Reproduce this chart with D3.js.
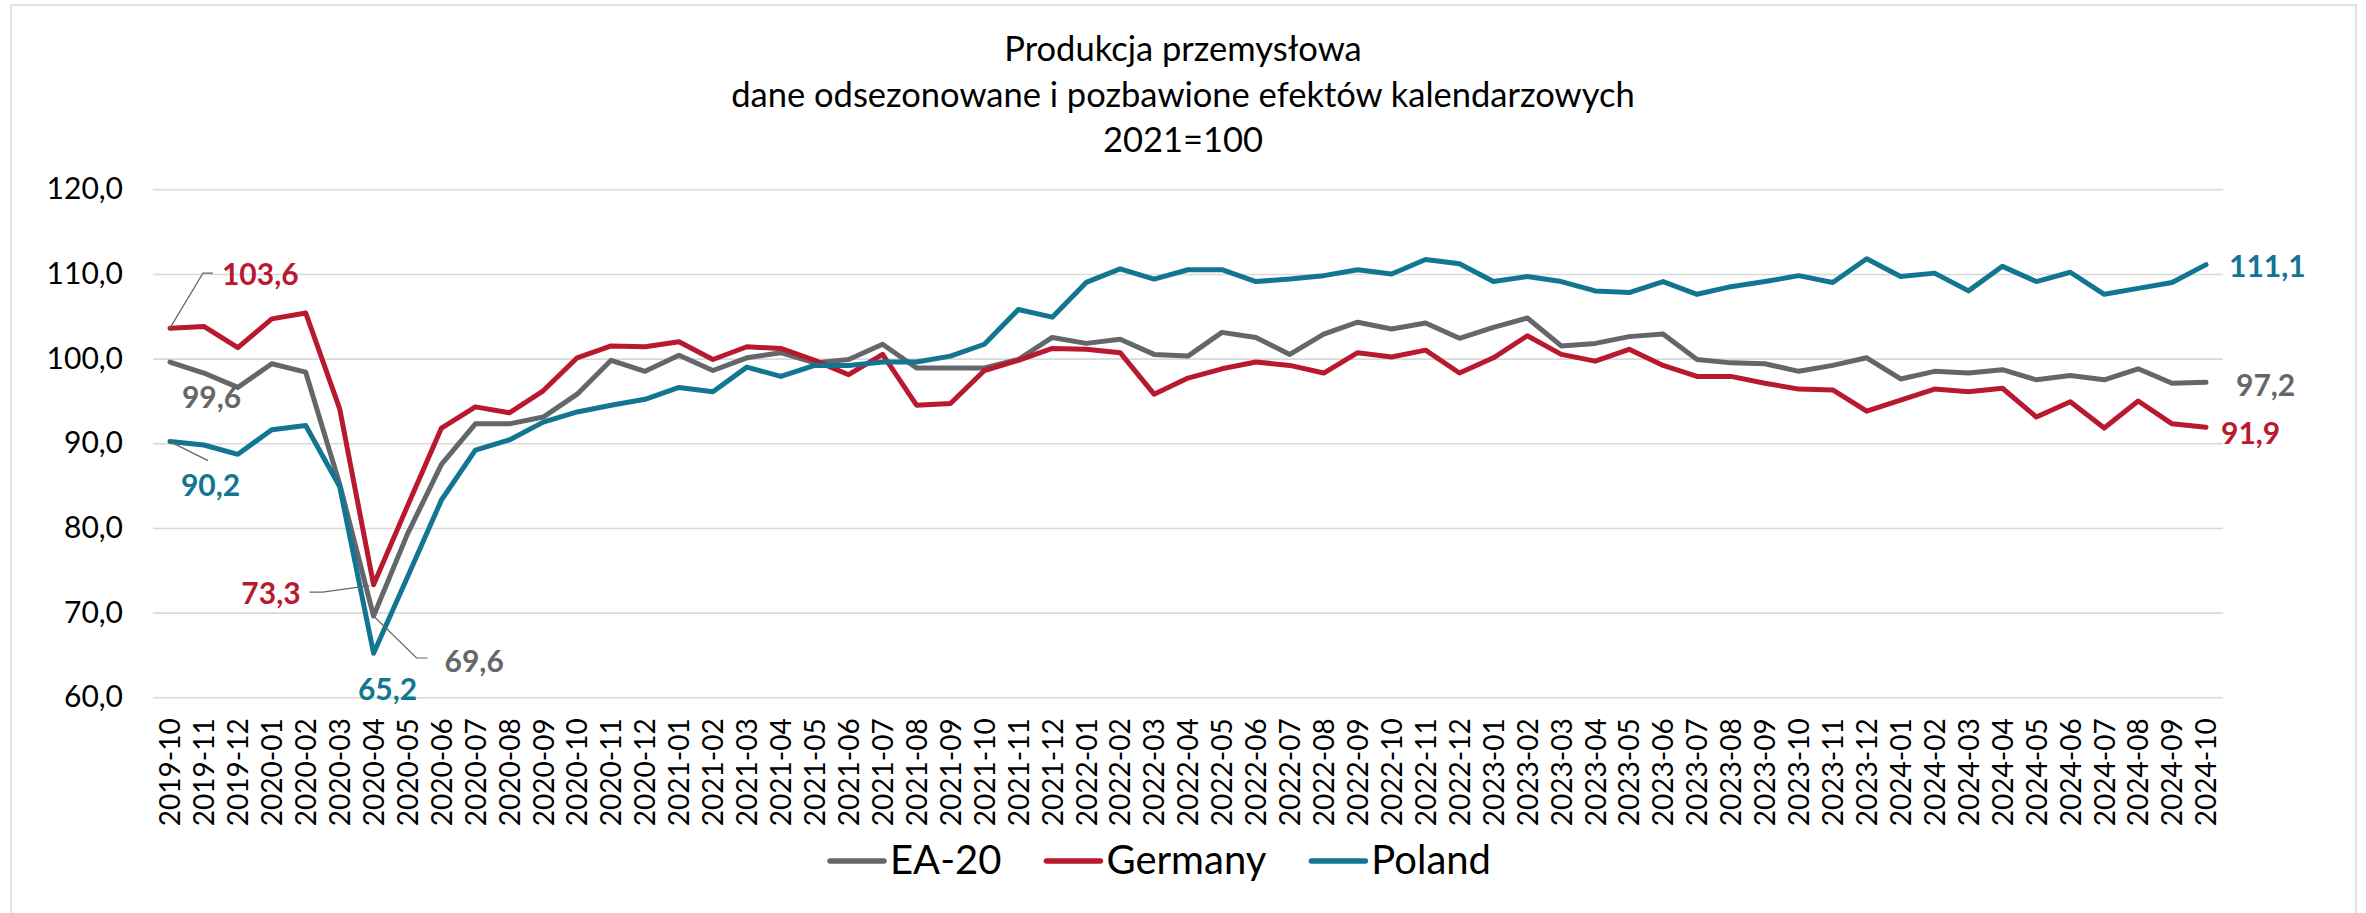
<!DOCTYPE html>
<html>
<head>
<meta charset="utf-8">
<script src="https://cdn.jsdelivr.net/npm/d3@7"></script>
<style>
    body { margin: 0; background: #fff; }
    svg { display: block; font-family: Lato, "Open Sans", sans-serif; }
</style>
</head>
<body>
<div id="root"></div>
<script>
// months on the x axis
const months = [
    "2019-10", "2019-11", "2019-12",
    "2020-01", "2020-02", "2020-03", "2020-04", "2020-05", "2020-06", "2020-07", "2020-08", "2020-09", "2020-10", "2020-11", "2020-12",
    "2021-01", "2021-02", "2021-03", "2021-04", "2021-05", "2021-06", "2021-07", "2021-08", "2021-09", "2021-10", "2021-11", "2021-12",
    "2022-01", "2022-02", "2022-03", "2022-04", "2022-05", "2022-06", "2022-07", "2022-08", "2022-09", "2022-10", "2022-11", "2022-12",
    "2023-01", "2023-02", "2023-03", "2023-04", "2023-05", "2023-06", "2023-07", "2023-08", "2023-09", "2023-10", "2023-11", "2023-12",
    "2024-01", "2024-02", "2024-03", "2024-04", "2024-05", "2024-06", "2024-07", "2024-08", "2024-09", "2024-10"
];

const ea20 = [
    99.6, 98.3, 96.6,
    99.4, 98.4, 85.2, 69.6, 79.3, 87.5, 92.3, 92.3, 93.1, 95.8, 99.8, 98.5,
    100.4, 98.6, 100.1, 100.7, 99.5, 99.9, 101.7, 98.9, 98.9, 98.9, 99.9, 102.5,
    101.8, 102.3, 100.5, 100.3, 103.1, 102.5, 100.5, 102.9, 104.3, 103.5, 104.2, 102.4,
    103.7, 104.8, 101.5, 101.8, 102.6, 102.9, 99.9, 99.5, 99.4, 98.5, 99.2, 100.1,
    97.6, 98.5, 98.3, 98.7, 97.5, 98.0, 97.5, 98.8, 97.1, 97.2
];

const germany = [
    103.6, 103.8, 101.3,
    104.7, 105.4, 94.1, 73.3, 82.6, 91.8, 94.3, 93.6, 96.2, 100.1, 101.5, 101.4,
    102.0, 99.9, 101.4, 101.2, 99.8, 98.1, 100.5, 94.5, 94.7, 98.6, 99.8, 101.2,
    101.1, 100.7, 95.8, 97.7, 98.8, 99.6, 99.2, 98.3, 100.7, 100.2, 101.0, 98.3,
    100.1, 102.7, 100.5, 99.7, 101.1, 99.2, 97.9, 97.9, 97.1, 96.4, 96.3, 93.8,
    95.1, 96.4, 96.1, 96.5, 93.1, 94.9, 91.8, 95.0, 92.3, 91.9
];

const poland = [
    90.2, 89.8, 88.7,
    91.6, 92.1, 84.9, 65.2, 74.2, 83.3, 89.2, 90.4, 92.5, 93.7, 94.5, 95.2,
    96.6, 96.1, 99.0, 97.9, 99.2, 99.2, 99.6, 99.6, 100.3, 101.7, 105.8, 104.9,
    109.0, 110.6, 109.4, 110.5, 110.5, 109.1, 109.4, 109.8, 110.5, 110.0, 111.7, 111.2,
    109.1, 109.7, 109.1, 108.0, 107.8, 109.1, 107.6, 108.5, 109.1, 109.8, 109.0, 111.8,
    109.7, 110.1, 108.0, 110.9, 109.1, 110.2, 107.6, 108.3, 109.0, 111.1
];

const seriesNames = ["EA-20", "Germany", "Poland"];
const yTicks = [60, 70, 80, 90, 100, 110, 120];
const titleLines = [
    "Produkcja przemysłowa",
    "dane odsezonowane i pozbawione efektów kalendarzowych",
    "2021=100"
];

const colors = {
    "EA-20": "#63676a",
    "Germany": "#b8192e",
    "Poland": "#127591"
};

const series = [
    { name: "EA-20", values: ea20 },
    { name: "Germany", values: germany },
    { name: "Poland", values: poland }
];

// value labels: which point, where the text sits relative to it, optional leader line
const annotations = [
    { name: "Germany", i: 0, dx: 52, dy: -54, anchor: "start", leader: [[0, 0], [33, -55], [43, -55]] },
    { name: "EA-20", i: 0, dx: 12, dy: 35, anchor: "start" },
    { name: "Poland", i: 0, dx: 11, dy: 44, anchor: "start", leader: [[0, 0], [38, 19]] },
    { name: "Germany", i: 6, dx: -73, dy: 9, anchor: "end", leader: [[-4, 1], [-51, 7.5], [-64, 7.5]] },
    { name: "EA-20", i: 6, dx: 71, dy: 45, anchor: "start", leader: [[0, 0], [43, 42], [54, 42]] },
    { name: "Poland", i: 6, dx: 14, dy: 36, anchor: "middle" },
    { name: "Poland", i: 60, dx: 23, dy: 2, anchor: "start" },
    { name: "EA-20", i: 60, dx: 30, dy: 3, anchor: "start" },
    { name: "Germany", i: 60, dx: 15, dy: 6, anchor: "start" }
];

const width = 2366;
const height = 913;
const plot = { left: 153, right: 2223, top: 189.3, bottom: 697.3 };

const plLocale = d3.formatLocale({ decimal: ",", thousands: " ", grouping: [3], currency: ["", " zł"] });
const fmt = plLocale.format(".1f");

const svg = d3.select("#root")
    .append("svg")
    .attr("width", width)
    .attr("height", height);

svg.append("rect")
    .attr("width", width)
    .attr("height", height)
    .attr("fill", "#fff");

// chart frame
svg.append("rect")
    .attr("x", 11)
    .attr("y", 5)
    .attr("width", 2345)
    .attr("height", 930)
    .attr("fill", "none")
    .attr("stroke", "#d9d9d9")
    .attr("stroke-width", 1.5);

const xScale = d3.scalePoint()
    .domain(months)
    .range([plot.left, plot.right])
    .padding(0.5);

const yScale = d3.scaleLinear()
    .domain([60, 120])
    .range([plot.bottom, plot.top]);

// y axis + gridlines
const yAxis = d3.axisLeft(yScale)
    .tickValues(yTicks)
    .tickFormat(fmt)
    .tickSizeInner(-(plot.right - plot.left))
    .tickSizeOuter(0)
    .tickPadding(30);

const gy = svg.append("g")
    .attr("id", "y-axis")
    .attr("transform", `translate(${plot.left},0)`)
    .call(yAxis);

gy.select(".domain").remove();
gy.selectAll(".tick line")
    .attr("stroke", "#d9d9d9")
    .attr("stroke-width", 1.6);
gy.selectAll(".tick text")
    .attr("fill", "#000")
    .style("font-size", "30px")
    .style("font-family", "Lato, sans-serif");

// x axis, labels turned upright
const xAxis = d3.axisBottom(xScale)
    .tickSize(0);

const gx = svg.append("g")
    .attr("id", "x-axis")
    .attr("transform", `translate(0,${plot.bottom})`)
    .call(xAxis);

gx.select(".domain").remove();
gx.selectAll(".tick text")
    .attr("transform", "rotate(-90)")
    .attr("text-anchor", "end")
    .attr("x", -21)
    .attr("y", 0)
    .attr("dy", "0.35em")
    .attr("fill", "#000")
    .style("font-size", "28px")
    .style("font-family", "Lato, sans-serif");

// lines
const line = d3.line()
    .x((d, i) => xScale(months[i]))
    .y((d) => yScale(d))
    .curve(d3.curveLinear);

svg.append("g")
    .attr("id", "lines")
    .selectAll("path")
    .data(series)
    .enter()
    .append("path")
        .attr("d", (d) => line(d.values))
        .attr("fill", "none")
        .attr("stroke", (d) => colors[d.name])
        .attr("stroke-width", 5)
        .attr("stroke-linejoin", "round")
        .attr("stroke-linecap", "round");

// value labels
const labels = svg.append("g").attr("id", "labels");

annotations.forEach((a) => {
    const s = series.find((d) => d.name === a.name);
    const v = s.values[a.i];
    const px = xScale(months[a.i]);
    const py = yScale(v);

    if (a.leader) {
        labels.append("path")
            .attr("d", d3.line()(a.leader.map((p) => [px + p[0], py + p[1]])))
            .attr("fill", "none")
            .attr("stroke", "#666")
            .attr("stroke-width", 1.2);
    }

    labels.append("text")
        .attr("x", px + a.dx)
        .attr("y", py + a.dy)
        .attr("dy", "0.35em")
        .attr("text-anchor", a.anchor)
        .attr("fill", colors[a.name])
        .style("font-weight", "bold")
        .style("font-size", "30px")
        .text(fmt(v));
});

// title
svg.append("g")
    .attr("id", "title")
    .selectAll("text")
    .data(titleLines)
    .enter()
    .append("text")
        .attr("x", width / 2)
        .attr("y", (d, i) => 61 + i * 45.5)
        .attr("text-anchor", "middle")
        .attr("fill", "#000")
        .style("font-size", "34.5px")
        .text((d) => d);

// legend
const legend = svg.append("g")
    .attr("id", "legend")
    .attr("transform", "translate(830, 861)");

let lx = 0;
seriesNames.forEach((name) => {
    const item = legend.append("g").attr("transform", `translate(${lx},0)`);
    item.append("line")
        .attr("x1", 0)
        .attr("x2", 54)
        .attr("y1", 0)
        .attr("y2", 0)
        .attr("stroke", colors[name])
        .attr("stroke-width", 5.5)
        .attr("stroke-linecap", "round");
    const t = item.append("text")
        .attr("x", 60)
        .attr("y", 13)
        .attr("fill", "#000")
        .style("font-size", "40px")
        .text(name);
    lx += 60 + t.node().getComputedTextLength() + 45;
});
</script>
</body>
</html>
